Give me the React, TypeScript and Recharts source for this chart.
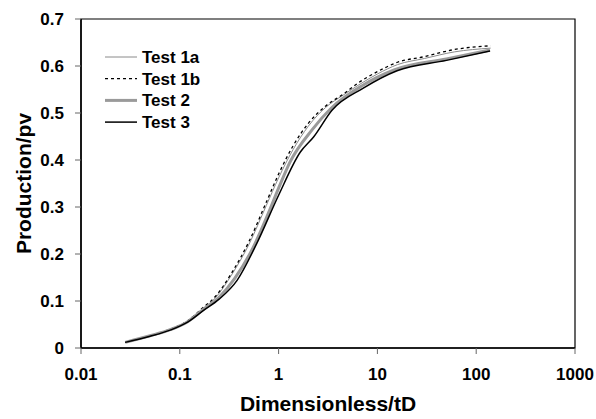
import {
  LineChart,
  Line,
  XAxis,
  YAxis,
  ReferenceArea,
} from "recharts";

const test1aX = [0.028, 0.05, 0.08, 0.12, 0.17, 0.23, 0.34, 0.5, 0.75, 1.0, 1.4, 2.0, 3.0, 4.5, 6.5, 10, 16, 30, 60, 140];
const test1aY = [0.012, 0.025, 0.039, 0.057, 0.083, 0.107, 0.158, 0.22, 0.303, 0.362, 0.422, 0.472, 0.512, 0.538, 0.56, 0.583, 0.603, 0.616, 0.63, 0.638];

const test1bX = [0.028, 0.05, 0.08, 0.12, 0.17, 0.23, 0.34, 0.5, 0.75, 1.0, 1.4, 2.0, 3.0, 4.5, 6.5, 10, 16, 30, 60, 140];
const test1bY = [0.012, 0.026, 0.04, 0.058, 0.085, 0.11, 0.162, 0.226, 0.31, 0.37, 0.43, 0.478, 0.515, 0.54, 0.565, 0.588, 0.608, 0.62, 0.635, 0.643];

const test2X = [0.028, 0.05, 0.08, 0.12, 0.17, 0.25, 0.36, 0.55, 0.8, 1.0, 1.3, 2.2, 3.4, 7, 15, 50, 138];
const test2Y = [0.012, 0.026, 0.039, 0.056, 0.081, 0.108, 0.148, 0.213, 0.29, 0.34, 0.395, 0.465, 0.51, 0.558, 0.592, 0.615, 0.634];

const test3X = [0.028, 0.05, 0.08, 0.12, 0.174, 0.25, 0.38, 0.6, 1.0, 1.66, 2.26, 3.47, 7.2, 15.8, 50, 138];
const test3Y = [0.012, 0.025, 0.038, 0.055, 0.08, 0.104, 0.144, 0.222, 0.325, 0.417, 0.449, 0.506, 0.553, 0.59, 0.612, 0.632];

const xTicks = [0.01, 0.1, 1, 10, 100, 1000];
const yTicks = [0, 0.1, 0.2, 0.3, 0.4, 0.5, 0.6, 0.7];

const toPoints = (xs: number[], ys: number[]) => xs.map((x, i) => ({ x, y: ys[i] }));

const series = [
  { name: "Test 1a", data: toPoints(test1aX, test1aY), stroke: "#8a8a8a", width: 1, dash: undefined },
  { name: "Test 1b", data: toPoints(test1bX, test1bY), stroke: "#000", width: 1.3, dash: "3 3" },
  { name: "Test 2", data: toPoints(test2X, test2Y), stroke: "#9a9a9a", width: 3, dash: undefined },
  { name: "Test 3", data: toPoints(test3X, test3Y), stroke: "#000", width: 1.5, dash: undefined },
];

const font = "'Liberation Sans', Arial, sans-serif";

// legend drawn as an overlay so it takes no room from the plot
function LegendBox() {
  return (
    <svg width={170} height={90} style={{ position: "absolute", left: 100, top: 45 }}>
      {series.map((s, i) => (
        <g key={s.name}>
          <line
            x1={5}
            x2={37}
            y1={12 + i * 21.7}
            y2={12 + i * 21.7}
            stroke={s.stroke}
            strokeWidth={s.width}
            strokeDasharray={s.dash}
          />
          <text
            x={42}
            y={18 + i * 21.7}
            fontFamily={font}
            fontWeight="bold"
            fontSize={17}
            fill="#000"
          >
            {s.name}
          </text>
        </g>
      ))}
    </svg>
  );
}

export default function App() {
  return (
    <div style={{ position: "absolute", left: 0, top: 0, width: 596, height: 419, background: "#fff" }}>
      <LineChart
        width={596}
        height={419}
        margin={{ top: 19, right: 21, left: 0, bottom: 0 }}
        style={{ fontFamily: font }}
      >
        <XAxis
          type="number"
          dataKey="x"
          scale="log"
          domain={[0.01, 1000]}
          ticks={xTicks}
          allowDataOverflow
          height={71}
          tickSize={6}
          tick={{ fill: "#000", fontSize: 17, fontWeight: "bold" }}
          tickMargin={14}
          axisLine={{ stroke: "#000", strokeWidth: 1.5 }}
          tickLine={{ stroke: "#666" }}
          label={{
            value: "Dimensionless/tD",
            position: "insideBottom",
            offset: 8,
            style: { fill: "#000", fontSize: 21, fontWeight: "bold" },
          }}
        />
        <YAxis
          type="number"
          dataKey="y"
          domain={[0, 0.7]}
          ticks={yTicks}
          width={81}
          tickSize={6}
          tickMargin={11}
          tick={{ fill: "#000", fontSize: 17, fontWeight: "bold" }}
          axisLine={{ stroke: "#000", strokeWidth: 1.5 }}
          tickLine={{ stroke: "#666" }}
          label={{
            value: "Production/pv",
            angle: -90,
            position: "insideLeft",
            offset: 24,
            style: { fill: "#000", fontSize: 21, fontWeight: "bold", textAnchor: "middle" },
          }}
        />
        <ReferenceArea
          x1={0.01}
          x2={1000}
          y1={0}
          y2={0.7}
          fill="none"
          stroke="#000"
          strokeWidth={1.2}
          ifOverflow="visible"
        />
        {series.map((s) => (
          <Line
            key={s.name}
            name={s.name}
            data={s.data}
            dataKey="y"
            type="monotone"
            stroke={s.stroke}
            strokeWidth={s.width}
            strokeDasharray={s.dash}
            dot={false}
            isAnimationActive={false}
          />
        ))}
      </LineChart>
      <LegendBox />
    </div>
  );
}
